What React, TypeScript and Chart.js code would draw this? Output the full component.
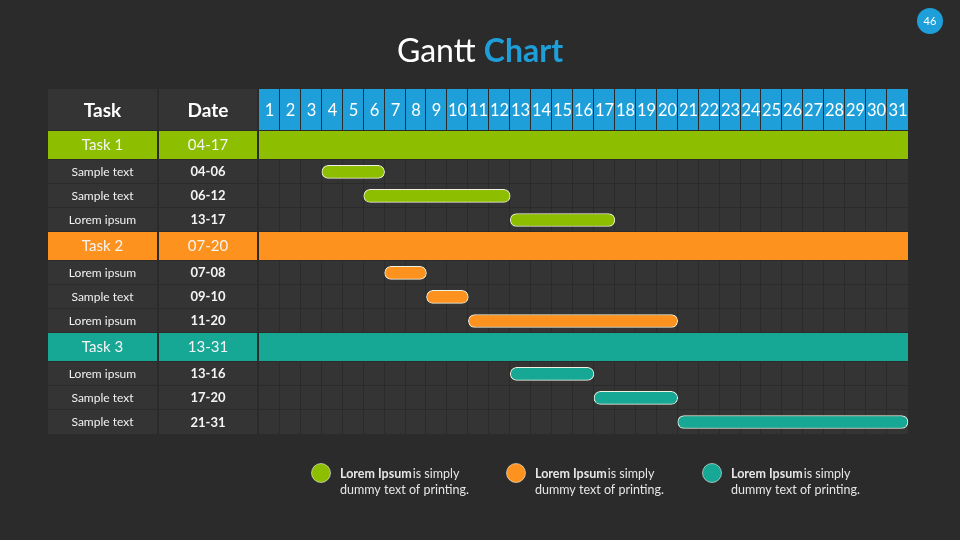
import React, { useEffect, useRef } from 'react';
import { Chart, registerables } from 'chart.js';

Chart.register(...registerables);

// ---------- data ----------
const dayLabels = ['1', '2', '3', '4', '5', '6', '7', '8', '9', '10', '11', '12', '13', '14', '15', '16',
  '17', '18', '19', '20', '21', '22', '23', '24', '25', '26', '27', '28', '29', '30', '31'];

const taskNames = ['Task 1', 'Task 2', 'Task 3'];
const taskDates = ['04-17', '07-20', '13-31'];
const taskColors = ['#8dbf00', '#fd931e', '#16a894'];

const task1Labels = ['Sample text', 'Sample text', 'Lorem ipsum'];
const task1Start = [4, 6, 13];
const task1End = [6, 12, 17];

const task2Labels = ['Lorem ipsum', 'Sample text', 'Lorem ipsum'];
const task2Start = [7, 9, 11];
const task2End = [8, 10, 20];

const task3Labels = ['Lorem ipsum', 'Sample text', 'Sample text'];
const task3Start = [13, 17, 21];
const task3End = [16, 20, 31];

const headerTask = 'Task';
const headerDate = 'Date';
const titleA = 'Gantt ';
const titleB = 'Chart';
const pageNumber = '46';
const legendBold = 'Lorem Ipsum';
const legendRest = 'is simply';
const legendLine2 = 'dummy text of printing.';

// ---------- layout / style ----------
const BG = '#2b2b2b';
const CELL = '#343434';
const BLUE = '#1e9fd9';
const FONT = 'Lato, "Open Sans", sans-serif';
const HEADER_TOP = 89;
const COL_TASK = [48, 157];
const COL_DATE = [159, 257];
const TASK_WEIGHT = 1.2;
const SUB_WEIGHT = 1;
const LEGEND_X = [321, 516, 712];
const LEGEND_Y = 473;

type Row = {
  kind: 'task' | 'sub';
  group: number;
  label: string;
  date: string;
  start: number;
  end: number;
  y0: number;
  y1: number;
};

const pad = (n: number) => (n < 10 ? '0' + n : String(n));

function buildRows() {
  const groups = [
    { labels: task1Labels, starts: task1Start, ends: task1End },
    { labels: task2Labels, starts: task2Start, ends: task2End },
    { labels: task3Labels, starts: task3Start, ends: task3End },
  ];
  const rows: Row[] = [];
  let acc = 0;
  groups.forEach((g, gi) => {
    rows.push({ kind: 'task', group: gi, label: taskNames[gi], date: taskDates[gi], start: 0, end: 0, y0: acc, y1: acc + TASK_WEIGHT });
    acc += TASK_WEIGHT;
    g.labels.forEach((lab, i) => {
      rows.push({
        kind: 'sub', group: gi, label: lab, date: pad(g.starts[i]) + '-' + pad(g.ends[i]),
        start: g.starts[i], end: g.ends[i], y0: acc, y1: acc + SUB_WEIGHT,
      });
      acc += SUB_WEIGHT;
    });
  });
  return { rows, total: acc };
}

export default function App() {
  const ref = useRef<HTMLCanvasElement>(null);

  useEffect(() => {
    const canvas = ref.current!;
    const { rows, total } = buildRows();
    const subRows = rows.filter((r) => r.kind === 'sub');

    const tablePlugin = {
      id: 'ganttTable',
      beforeDraw(chart: any) {
        const ctx: CanvasRenderingContext2D = chart.ctx;
        const xs = chart.scales.x;
        const ys = chart.scales.y;
        const area = chart.chartArea;
        ctx.save();
        ctx.fillStyle = BG;
        ctx.fillRect(0, 0, chart.width, chart.height);

        // title
        ctx.textBaseline = 'alphabetic';
        ctx.font = `400 32px ${FONT}`;
        const wa = ctx.measureText(titleA).width;
        ctx.font = `700 32px ${FONT}`;
        const wb = ctx.measureText(titleB).width;
        const tx = 480 - (wa + wb) / 2;
        ctx.textAlign = 'left';
        ctx.font = `400 32px ${FONT}`;
        ctx.fillStyle = '#ffffff';
        ctx.fillText(titleA, tx, 62);
        ctx.font = `700 32px ${FONT}`;
        ctx.fillStyle = BLUE;
        ctx.fillText(titleB, tx + wa, 62);

        // page number
        ctx.beginPath();
        ctx.arc(930, 21, 13, 0, Math.PI * 2);
        ctx.fillStyle = BLUE;
        ctx.fill();
        ctx.fillStyle = '#ffffff';
        ctx.font = `400 11px ${FONT}`;
        ctx.textAlign = 'center';
        ctx.textBaseline = 'middle';
        ctx.fillText(pageNumber, 930, 21);

        const headerBottom = Math.round(area.top) - 1;
        // header cells
        ctx.fillStyle = CELL;
        ctx.fillRect(COL_TASK[0], HEADER_TOP, COL_TASK[1] - COL_TASK[0], headerBottom - HEADER_TOP);
        ctx.fillRect(COL_DATE[0], HEADER_TOP, COL_DATE[1] - COL_DATE[0], headerBottom - HEADER_TOP);
        ctx.fillStyle = '#ffffff';
        ctx.font = `700 19px ${FONT}`;
        const hMid = (HEADER_TOP + headerBottom) / 2 + 1;
        ctx.fillText(headerTask, (COL_TASK[0] + COL_TASK[1]) / 2, hMid);
        ctx.fillText(headerDate, (COL_DATE[0] + COL_DATE[1]) / 2, hMid);

        dayLabels.forEach((lab, d) => {
          const x0 = Math.round(xs.getPixelForValue(d));
          const x1 = Math.round(xs.getPixelForValue(d + 1)) - (d === dayLabels.length - 1 ? 0 : 1);
          ctx.fillStyle = BLUE;
          ctx.fillRect(x0, HEADER_TOP, x1 - x0, headerBottom - HEADER_TOP);
          ctx.fillStyle = '#ffffff';
          ctx.font = `400 16.5px ${FONT}`;
          ctx.fillText(lab, (x0 + x1) / 2 + 0.5, hMid);
        });

        // rows
        rows.forEach((r, ri) => {
          const y0 = Math.round(ys.getPixelForValue(r.y0));
          const y1 = Math.round(ys.getPixelForValue(r.y1)) - (ri === rows.length - 1 ? 0 : 1);
          const h = y1 - y0;
          const mid = (y0 + y1) / 2;
          if (r.kind === 'task') {
            ctx.fillStyle = taskColors[r.group];
            ctx.fillRect(COL_TASK[0], y0, COL_TASK[1] - COL_TASK[0], h);
            ctx.fillRect(COL_DATE[0], y0, COL_DATE[1] - COL_DATE[0], h);
            const gx0 = Math.round(xs.getPixelForValue(0));
            const gx1 = Math.round(xs.getPixelForValue(dayLabels.length));
            ctx.fillRect(gx0, y0, gx1 - gx0, h);
            ctx.fillStyle = '#f4f4f4';
            ctx.font = `400 15px ${FONT}`;
            ctx.fillText(r.label, (COL_TASK[0] + COL_TASK[1]) / 2, mid + 0.5);
            ctx.fillText(r.date, (COL_DATE[0] + COL_DATE[1]) / 2, mid + 0.5);
          } else {
            ctx.fillStyle = CELL;
            ctx.fillRect(COL_TASK[0], y0, COL_TASK[1] - COL_TASK[0], h);
            ctx.fillRect(COL_DATE[0], y0, COL_DATE[1] - COL_DATE[0], h);
            dayLabels.forEach((_, d) => {
              const x0 = Math.round(xs.getPixelForValue(d));
              const x1 = Math.round(xs.getPixelForValue(d + 1)) - (d === dayLabels.length - 1 ? 0 : 1);
              ctx.fillRect(x0, y0, x1 - x0, h);
            });
            ctx.fillStyle = '#f2f2f2';
            ctx.font = `400 12px ${FONT}`;
            ctx.fillText(r.label, (COL_TASK[0] + COL_TASK[1]) / 2, mid + 0.5);
            ctx.fillStyle = '#f4f4f4';
            ctx.font = `700 13px ${FONT}`;
            ctx.fillText(r.date, (COL_DATE[0] + COL_DATE[1]) / 2, mid + 0.5);
          }
        });
        ctx.restore();
      },
      afterDraw(chart: any) {
        const ctx: CanvasRenderingContext2D = chart.ctx;
        ctx.save();
        taskColors.forEach((c, i) => {
          const cx = LEGEND_X[i];
          ctx.beginPath();
          ctx.arc(cx, LEGEND_Y, 9.5, 0, Math.PI * 2);
          ctx.fillStyle = c;
          ctx.fill();
          ctx.lineWidth = 1;
          ctx.strokeStyle = 'rgba(255,255,255,0.55)';
          ctx.stroke();
          const tx = cx + 19;
          ctx.textAlign = 'left';
          ctx.textBaseline = 'middle';
          ctx.fillStyle = '#e6e6e6';
          ctx.font = `700 12.5px ${FONT}`;
          ctx.fillText(legendBold, tx, LEGEND_Y + 1);
          const w = ctx.measureText(legendBold).width;
          ctx.font = `400 12.5px ${FONT}`;
          ctx.fillText(legendRest, tx + w + 1, LEGEND_Y + 1);
          ctx.fillText(legendLine2, tx, LEGEND_Y + 17);
        });
        ctx.restore();
      },
    };

    const chart = new Chart(canvas, {
      type: 'bar',
      data: {
        datasets: [
          {
            label: 'Subtasks',
            data: subRows.map((r) => ({ x: [r.start - 1, r.end], y: (r.y0 + r.y1) / 2 })) as any,
            backgroundColor: subRows.map((r) => taskColors[r.group]),
            borderColor: '#f1f1e2',
            borderWidth: 1,
            borderRadius: 7,
            borderSkipped: false,
            barThickness: 13,
            clip: false as any,
          },
        ],
      },
      options: {
        indexAxis: 'y',
        responsive: false,
        maintainAspectRatio: false,
        animation: false,
        devicePixelRatio: 1,
        events: [],
        layout: { padding: { left: 259, right: 52, top: 131, bottom: 106 } },
        scales: {
          x: { type: 'linear', min: 0, max: dayLabels.length, display: false, offset: false, grace: 0 },
          y: { type: 'linear', min: 0, max: total, reverse: true, display: false, offset: false, grace: 0, grid: { offset: false } },
        },
        plugins: {
          legend: { display: false },
          tooltip: { enabled: false },
          title: { display: false },
        },
      } as any,
      plugins: [tablePlugin],
    });
    return () => chart.destroy();
  }, []);

  return (
    <div style={{ position: 'absolute', left: 0, top: 0, width: 960, height: 540, background: BG }}>
      <canvas ref={ref} width={960} height={540} style={{ display: 'block', width: 960, height: 540 }} />
    </div>
  );
}
